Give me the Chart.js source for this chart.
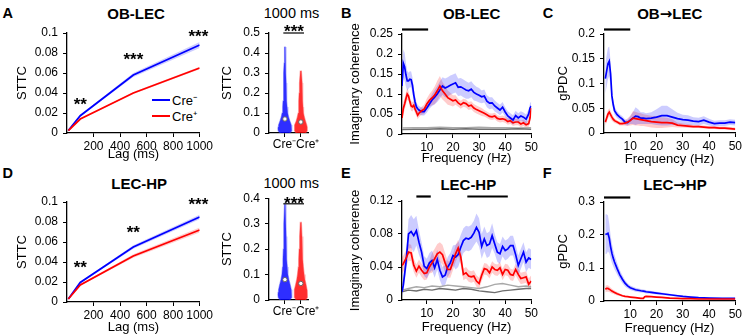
<!DOCTYPE html>
<html>
<head>
<meta charset="utf-8">
<script src="https://cdn.jsdelivr.net/npm/chart.js@4.4.1/dist/chart.umd.min.js"></script>
<style>
  html, body { margin: 0; padding: 0; background: #fff; }
  #fig { position: relative; width: 744px; height: 336px; overflow: hidden; font-family: "Liberation Sans", Arial, Helvetica, sans-serif; color: #000; }
  #fig canvas { position: absolute; }
  .lbl { position: absolute; white-space: nowrap; line-height: 1; }
  .letter { font-weight: bold; font-size: 14.5px; }
  .ttl { font-weight: bold; font-size: 15px; transform: translateX(-50%); }
  .arr { font-family: "DejaVu Sans", sans-serif; font-weight: bold; }
  .sub { font-size: 14.5px; transform: translateX(-50%); }
  .leg { font-size: 13px; }
  .swatch { position: absolute; width: 18px; height: 2px; }
</style>
</head>
<body>
<div id="fig">
  <div class="lbl letter" style="left:2.5px;top:6.3px">A</div>
  <div class="lbl ttl" style="left:136px;top:6.3px">OB-LEC</div>
  <div class="lbl sub" style="left:291.5px;top:6.4px">1000 ms</div>
  <div class="lbl letter" style="left:341px;top:6.3px">B</div>
  <div class="lbl ttl" style="left:471.7px;top:6.3px">OB-LEC</div>
  <div class="lbl letter" style="left:542.7px;top:6.3px">C</div>
  <div class="lbl ttl" style="left:669.7px;top:6.3px">OB<span class="arr">→</span>LEC</div>
  <div class="lbl letter" style="left:2.5px;top:166.3px">D</div>
  <div class="lbl ttl" style="left:139.2px;top:176.3px">LEC-HP</div>
  <div class="lbl sub" style="left:291.2px;top:176.4px">1000 ms</div>
  <div class="lbl letter" style="left:341px;top:166.3px">E</div>
  <div class="lbl ttl" style="left:468.3px;top:177px">LEC-HP</div>
  <div class="lbl letter" style="left:542.7px;top:166.3px">F</div>
  <div class="lbl ttl" style="left:675px;top:177px">LEC<span class="arr">→</span>HP</div>
  <div id="legend"></div>
</div>
<script>
// ---- data ----
const groups = ['Cre⁻', 'Cre⁺'];
const blue = '#0000ff', red = '#ff0000';
const blueBand = 'rgba(0,0,255,0.2)', redBand = 'rgba(255,0,0,0.2)';

// STTC vs lag (A, D)
const lagMs = [10, 100, 500, 1000];
const lagTicks = [200, 400, 600, 800, 1000];
const lagTickLabels = ['200', '400', '600', '800', '1000'];
const sttcTicks = [0, 0.02, 0.04, 0.06, 0.08, 0.1];
const sttcTickLabels = ['0', '0.02', '0.04', '0.06', '0.08', '0.1'];
const sttcObLecMinus = [0.0025, 0.0173, 0.058, 0.088];
const sttcObLecMinusSem = [0.0004, 0.0008, 0.002, 0.003];
const sttcObLecPlus = [0.0023, 0.014, 0.040, 0.065];
const sttcObLecPlusSem = [0.0004, 0.0006, 0.001, 0.0012];
const sttcLecHpMinus = [0.003, 0.0195, 0.055, 0.085];
const sttcLecHpMinusSem = [0.0004, 0.0008, 0.0018, 0.0022];
const sttcLecHpPlus = [0.003, 0.017, 0.046, 0.072];
const sttcLecHpPlusSem = [0.0004, 0.0008, 0.0018, 0.0025];
const starsObLec = ['**', '***', '***'];
const starsObLecLag = [100, 500, 990];
const starsObLecY = [0.033, 0.078, 0.1006];
const starsLecHp = ['**', '**', '***'];
const starsLecHpLag = [100, 500, 990];
const starsLecHpY = [0.039, 0.0737, 0.102];

// STTC at 1000 ms, violins (A, D)
const violinObLecTicks = [0, 0.1, 0.2, 0.3, 0.4, 0.5];
const violinObLecTickLabels = ['0', '0.1', '0.2', '0.3', '0.4', '0.5'];
const violinObLecMinusLevels = [0, 0.01, 0.02, 0.03, 0.04, 0.06, 0.08, 0.1, 0.13, 0.16, 0.2, 0.25, 0.3, 0.35, 0.43];
const violinObLecMinusWidth = [0.3, 0.42, 0.44, 0.43, 0.4, 0.31, 0.23, 0.18, 0.14, 0.12, 0.1, 0.08, 0.065, 0.05, 0.025];
const violinObLecPlusLevels = [0, 0.01, 0.02, 0.03, 0.04, 0.06, 0.08, 0.1, 0.13, 0.16, 0.2, 0.25, 0.31];
const violinObLecPlusWidth = [0.3, 0.39, 0.41, 0.4, 0.37, 0.29, 0.22, 0.17, 0.14, 0.125, 0.11, 0.085, 0.035];
const violinObLecMedian = [0.07, 0.055];
const violinLecHpTicks = [0, 0.1, 0.2, 0.3, 0.4];
const violinLecHpTickLabels = ['0', '0.1', '0.2', '0.3', '0.4'];
const violinLecHpMinusLevels = [0, 0.01, 0.02, 0.03, 0.04, 0.06, 0.08, 0.1, 0.13, 0.16, 0.2, 0.25, 0.3, 0.375];
const violinLecHpMinusWidth = [0.3, 0.42, 0.44, 0.43, 0.4, 0.33, 0.25, 0.19, 0.15, 0.125, 0.1, 0.08, 0.06, 0.025];
const violinLecHpPlusLevels = [0, 0.01, 0.02, 0.03, 0.04, 0.06, 0.08, 0.1, 0.13, 0.16, 0.2, 0.25, 0.305];
const violinLecHpPlusWidth = [0.3, 0.4, 0.42, 0.41, 0.39, 0.33, 0.26, 0.21, 0.16, 0.135, 0.11, 0.075, 0.035];
const violinLecHpMedian = [0.08, 0.065];

const freqTicks = [10, 20, 30, 40, 50];
const freqTickLabels = ['10', '20', '30', '40', '50'];

// B: OB-LEC imaginary coherence
const bFreq = [0.5, 1, 1.5, 2, 2.5, 3, 3.5, 4, 4.5, 5, 5.5, 6, 6.5, 7,
  8, 9, 10, 11, 12, 13, 14, 15, 16, 17, 18, 19, 20, 21, 22, 23, 24, 25, 26, 27, 28, 29,
  30, 31, 32, 33, 34, 35, 36, 37, 38, 39, 40, 41, 42, 43, 44, 45, 46, 47, 48, 49, 49.5, 50];
const bCreMinus = [0.12, 0.177, 0.168, 0.148, 0.133, 0.133, 0.137, 0.136, 0.122, 0.098, 0.08, 0.068, 0.063, 0.06,
  0.056, 0.056, 0.065, 0.075, 0.085, 0.092, 0.1, 0.11, 0.12, 0.115, 0.118, 0.122, 0.125, 0.128, 0.117, 0.118, 0.114, 0.11, 0.108, 0.112, 0.104, 0.1,
  0.097, 0.093, 0.095, 0.082, 0.077, 0.078, 0.07, 0.065, 0.06, 0.067, 0.055, 0.045, 0.04, 0.035, 0.046, 0.04, 0.045, 0.042, 0.037, 0.05, 0.065, 0.07];
const bCreMinusSem = [0.03, 0.035, 0.035, 0.03, 0.025, 0.02, 0.02, 0.02, 0.02, 0.018, 0.015, 0.012, 0.01, 0.01,
  0.01, 0.01, 0.012, 0.012, 0.015, 0.018, 0.02, 0.022, 0.022, 0.024, 0.024, 0.024, 0.024, 0.024, 0.022, 0.022, 0.022, 0.022, 0.02, 0.02, 0.02, 0.018,
  0.018, 0.016, 0.016, 0.015, 0.015, 0.014, 0.014, 0.013, 0.013, 0.013, 0.012, 0.012, 0.012, 0.012, 0.012, 0.012, 0.012, 0.012, 0.012, 0.012, 0.012, 0.012];
const bCrePlus = [0.04, 0.064, 0.075, 0.088, 0.1, 0.095, 0.081, 0.07, 0.068, 0.072, 0.062, 0.055, 0.047, 0.052,
  0.058, 0.062, 0.075, 0.084, 0.09, 0.097, 0.108, 0.12, 0.108, 0.1, 0.091, 0.087, 0.083, 0.085, 0.078, 0.073, 0.078, 0.076, 0.07, 0.072, 0.065, 0.061,
  0.058, 0.055, 0.052, 0.048, 0.044, 0.043, 0.045, 0.039, 0.037, 0.038, 0.036, 0.031, 0.033, 0.028, 0.03, 0.03, 0.025, 0.028, 0.023, 0.026, 0.04, 0.065];
const bCrePlusSem = [0.012, 0.015, 0.015, 0.015, 0.015, 0.012, 0.012, 0.012, 0.012, 0.01, 0.01, 0.01, 0.01, 0.01,
  0.01, 0.012, 0.014, 0.016, 0.018, 0.022, 0.025, 0.025, 0.022, 0.02, 0.018, 0.016, 0.014, 0.012, 0.01, 0.01, 0.01, 0.01, 0.01, 0.01, 0.01, 0.01,
  0.01, 0.01, 0.008, 0.008, 0.008, 0.008, 0.008, 0.008, 0.008, 0.008, 0.008, 0.008, 0.008, 0.008, 0.008, 0.008, 0.008, 0.008, 0.008, 0.008, 0.008, 0.008];
const bShuffleFreq = [0.5, 5, 10, 15, 20, 25, 30, 35, 40, 45, 50];
const bShuffleDark = [0.011, 0.012, 0.012, 0.013, 0.012, 0.013, 0.012, 0.012, 0.012, 0.013, 0.012];
const bShuffleLight = [0.015, 0.016, 0.016, 0.017, 0.016, 0.016, 0.017, 0.016, 0.016, 0.015, 0.016];
const bTicks = [0, 0.05, 0.1, 0.15, 0.2, 0.25];
const bTickLabels = ['0', '0.05', '0.1', '0.15', '0.2', '0.25'];
const bSigRanges = [[0.5, 10.5]];

// C: OB->LEC gPDC
const cFreq = [0.5, 1, 1.5, 2, 2.5, 3, 3.5, 4, 5, 6, 7, 8, 9, 10, 11, 12, 13, 14, 15, 16, 18, 20, 22, 24, 26, 28, 30, 32, 34, 36, 38, 40, 42, 44, 46, 48, 50];
const cCreMinus = [0.11, 0.125, 0.14, 0.145, 0.12, 0.075, 0.058, 0.045, 0.037, 0.032, 0.028, 0.022, 0.021, 0.026, 0.03, 0.034, 0.033, 0.03, 0.03, 0.029, 0.03, 0.032, 0.035, 0.035, 0.032, 0.029, 0.027, 0.026, 0.024, 0.023, 0.026, 0.022, 0.019, 0.02, 0.02, 0.022, 0.021];
const cCreMinusSem = [0.03, 0.032, 0.032, 0.03, 0.025, 0.015, 0.01, 0.008, 0.007, 0.006, 0.006, 0.006, 0.006, 0.008, 0.012, 0.018, 0.015, 0.012, 0.012, 0.011, 0.012, 0.016, 0.02, 0.02, 0.016, 0.012, 0.01, 0.01, 0.008, 0.008, 0.008, 0.007, 0.006, 0.006, 0.006, 0.006, 0.006];
const cCrePlus = [0.022, 0.03, 0.038, 0.042, 0.037, 0.032, 0.028, 0.025, 0.022, 0.019, 0.019, 0.02, 0.022, 0.025, 0.03, 0.029, 0.028, 0.027, 0.026, 0.025, 0.023, 0.022, 0.021, 0.021, 0.02, 0.016, 0.015, 0.014, 0.013, 0.013, 0.012, 0.011, 0.011, 0.01, 0.01, 0.009, 0.008];
const cCrePlusSem = [0.008, 0.008, 0.008, 0.008, 0.008, 0.007, 0.006, 0.005, 0.004, 0.004, 0.004, 0.005, 0.008, 0.01, 0.014, 0.014, 0.013, 0.013, 0.012, 0.012, 0.012, 0.012, 0.011, 0.01, 0.008, 0.005, 0.004, 0.004, 0.003, 0.003, 0.003, 0.003, 0.003, 0.003, 0.003, 0.003, 0.003];
const cTicks = [0, 0.05, 0.1, 0.15, 0.2];
const cTickLabels = ['0', '0.05', '0.1', '0.15', '0.2'];
const cSigRanges = [[0, 10]];

// E: LEC-HP imaginary coherence
const eFreq = [0.5, 1, 2, 3, 4, 5, 6, 7, 8, 9, 10, 11, 12, 13, 14, 15, 16, 17, 18, 19, 20, 21, 22, 23, 24, 25,
  26, 27, 28, 29, 30, 31, 32, 33, 34, 35, 36, 37, 38, 39, 40, 41, 42, 43, 44, 45, 46, 47, 48, 49, 50];
const eCreMinus = [0.01, 0.018, 0.045, 0.08, 0.083, 0.078, 0.084, 0.07, 0.058, 0.041, 0.038, 0.045, 0.048, 0.039, 0.049, 0.036, 0.028, 0.03, 0.04, 0.045, 0.054, 0.052, 0.055, 0.064, 0.072, 0.075,
  0.074, 0.076, 0.081, 0.088, 0.082, 0.065, 0.074, 0.066, 0.068, 0.078, 0.068, 0.058, 0.056, 0.065, 0.06, 0.062, 0.066, 0.066, 0.055, 0.042, 0.05, 0.058, 0.046, 0.051, 0.049];
const eCreMinusSem = [0.005, 0.008, 0.012, 0.018, 0.02, 0.02, 0.018, 0.015, 0.012, 0.012, 0.012, 0.012, 0.012, 0.012, 0.012, 0.012, 0.012, 0.012, 0.012, 0.012, 0.012, 0.015, 0.015, 0.015, 0.015, 0.015,
  0.015, 0.015, 0.015, 0.017, 0.017, 0.015, 0.015, 0.015, 0.015, 0.015, 0.012, 0.012, 0.012, 0.012, 0.012, 0.012, 0.012, 0.012, 0.012, 0.012, 0.012, 0.012, 0.012, 0.012, 0.012];
const eCrePlus = [0.042, 0.044, 0.05, 0.058, 0.057, 0.042, 0.035, 0.041, 0.036, 0.032, 0.033, 0.04, 0.045, 0.05, 0.056, 0.058, 0.055, 0.045, 0.037, 0.037, 0.046, 0.056, 0.063, 0.052, 0.031, 0.033,
  0.029, 0.028, 0.029, 0.023, 0.02, 0.03, 0.038, 0.037, 0.033, 0.04, 0.037, 0.036, 0.039, 0.031, 0.037, 0.036, 0.031, 0.03, 0.037, 0.031, 0.026, 0.027, 0.028, 0.019, 0.023];
const eCrePlusSem = [0.01, 0.01, 0.01, 0.01, 0.01, 0.008, 0.008, 0.008, 0.008, 0.008, 0.008, 0.008, 0.012, 0.012, 0.012, 0.012, 0.012, 0.012, 0.01, 0.01, 0.01, 0.01, 0.01, 0.01, 0.007, 0.007,
  0.007, 0.007, 0.007, 0.007, 0.007, 0.007, 0.007, 0.007, 0.007, 0.007, 0.007, 0.007, 0.007, 0.007, 0.007, 0.007, 0.007, 0.007, 0.007, 0.007, 0.007, 0.007, 0.007, 0.007, 0.007];
const eShuffleFreq = [0.5, 3, 6, 9, 12, 15, 18, 21, 24, 27, 30, 33, 36, 39, 42, 45, 48, 50];
const eShuffleDark = [0.01, 0.012, 0.011, 0.013, 0.012, 0.014, 0.013, 0.012, 0.014, 0.013, 0.011, 0.01, 0.009, 0.011, 0.012, 0.013, 0.014, 0.014];
const eShuffleLight = [0.012, 0.014, 0.016, 0.015, 0.017, 0.016, 0.018, 0.017, 0.016, 0.015, 0.014, 0.016, 0.019, 0.02, 0.018, 0.016, 0.017, 0.016];
const eTicks = [0, 0.04, 0.08, 0.12];
const eTickLabels = ['0', '0.04', '0.08', '0.12'];
const eSigRanges = [[6, 11.5], [25.5, 41]];

// F: LEC->HP gPDC
const fFreq = [0.5, 1, 1.5, 2, 2.5, 3, 3.5, 4, 5, 6, 7, 8, 9, 10, 12, 14, 15, 15.5, 16, 18, 20, 22, 25, 28, 30, 33, 36, 40, 45, 50];
const fCreMinus = [0.202, 0.203, 0.205, 0.19, 0.165, 0.145, 0.13, 0.118, 0.098, 0.08, 0.066, 0.054, 0.046, 0.04, 0.034, 0.031, 0.03, 0.029, 0.028, 0.026, 0.024, 0.022, 0.019, 0.016, 0.014, 0.012, 0.01, 0.009, 0.008, 0.008];
const fCreMinusSem = [0.06, 0.06, 0.055, 0.045, 0.035, 0.03, 0.025, 0.022, 0.018, 0.014, 0.012, 0.01, 0.008, 0.007, 0.006, 0.005, 0.005, 0.005, 0.005, 0.004, 0.004, 0.004, 0.003, 0.003, 0.003, 0.002, 0.002, 0.002, 0.002, 0.002];
const fCrePlus = [0.036, 0.038, 0.038, 0.036, 0.033, 0.03, 0.028, 0.026, 0.022, 0.019, 0.016, 0.014, 0.013, 0.012, 0.01, 0.008, 0.008, 0.013, 0.014, 0.013, 0.012, 0.011, 0.009, 0.008, 0.007, 0.007, 0.006, 0.006, 0.006, 0.006];
const fCrePlusSem = [0.01, 0.01, 0.01, 0.009, 0.008, 0.007, 0.006, 0.006, 0.005, 0.004, 0.003, 0.003, 0.002, 0.002, 0.002, 0.002, 0.002, 0.002, 0.002, 0.002, 0.002, 0.002, 0.002, 0.002, 0.002, 0.002, 0.002, 0.002, 0.002, 0.002];
const fTicks = [0, 0.1, 0.2, 0.3];
const fTickLabels = ['0', '0.1', '0.2', '0.3'];
const fSigRanges = [[0, 10]];

// ---- drawing ----
const fontFamily = '"Liberation Sans", Arial, Helvetica, sans-serif';
Chart.defaults.font.family = fontFamily;
Chart.defaults.color = '#000';
const titleSize = 13, titleHalf = titleSize * 1.2 / 2;

function axis(o) {
  return {
    type: 'linear', min: o.min, max: o.max,
    afterBuildTicks: s => { s.ticks = o.ticks.map(v => ({ value: v })); },
    afterFit: s => { if (o.isX) s.height = o.size; else s.width = o.size; },
    ticks: {
      autoSkip: false, maxRotation: 0, minRotation: 0, color: '#000', font: { size: 12 },
      padding: o.isX ? 2 : 5,
      callback: (v, i) => (o.labels ? o.labels[i] : ''),
    },
    grid: { drawOnChartArea: false, drawTicks: true, tickLength: 4, color: '#000', lineWidth: 1 },
    border: { display: true, color: '#000', width: 1.3 },
    title: o.title
      ? { display: true, text: o.title, color: '#000', font: { size: titleSize },
          padding: o.isX ? { top: 0, bottom: o.titleOffset } : { top: o.titleOffset, bottom: 0 } }
      : { display: false },
  };
}

function line(xs, ys, color, width, order) {
  return { data: xs.map((x, i) => ({ x, y: ys[i] })), borderColor: color, borderWidth: width,
    pointRadius: 0, fill: false, tension: 0, order };
}

function band(xs, ys, sem, color) {
  return [
    { data: xs.map((x, i) => ({ x, y: ys[i] + sem[i] })), borderColor: 'rgba(0,0,0,0)', backgroundColor: color,
      pointRadius: 0, fill: '+1', tension: 0, order: 5 },
    { data: xs.map((x, i) => ({ x, y: ys[i] - sem[i] })), borderColor: 'rgba(0,0,0,0)',
      pointRadius: 0, fill: false, tension: 0, order: 5 },
  ];
}

function violin(center, levels, widths, fillColor, edgeColor) {
  const left = levels.map((l, i) => ({ x: center - widths[i], y: l }));
  const right = levels.map((l, i) => ({ x: center + widths[i], y: l })).reverse();
  return { data: left.concat(right), showLine: true, fill: 'shape', backgroundColor: fillColor,
    borderColor: edgeColor, borderWidth: 1.2, pointRadius: 0, tension: 0, order: 2 };
}

function marksPlugin(spec) {
  return {
    id: 'marks',
    afterDatasetsDraw(chart) {
      const { ctx, chartArea: a, scales: { x, y } } = chart;
      ctx.save();
      ctx.strokeStyle = '#000';
      ctx.fillStyle = '#000';
      ctx.lineCap = 'butt';
      (spec.bars || []).forEach(r => {
        const yy = a.top - 4.5;
        ctx.lineWidth = 2.2;
        ctx.beginPath();
        ctx.moveTo(x.getPixelForValue(r[0]), yy);
        ctx.lineTo(x.getPixelForValue(r[1]), yy);
        ctx.stroke();
      });
      if (spec.sigLine) {
        const yy = y.getPixelForValue(spec.sigLine.y);
        ctx.lineWidth = 1.2;
        ctx.beginPath();
        ctx.moveTo(x.getPixelForValue(spec.sigLine.x0), yy);
        ctx.lineTo(x.getPixelForValue(spec.sigLine.x1), yy);
        ctx.stroke();
      }
      const starSize = 17;
      ctx.font = 'bold ' + starSize + 'px ' + fontFamily;
      ctx.textAlign = 'center';
      ctx.textBaseline = 'alphabetic';
      (spec.stars || []).forEach(s => {
        ctx.fillText(s.text, x.getPixelForValue(s.x), y.getPixelForValue(s.y) + 0.575 * starSize);
      });
      if (spec.groupLabels) {
        ctx.font = '12px ' + fontFamily;
        ctx.textBaseline = 'top';
        const gx = x.getPixelForValue(spec.groupSplit);
        ctx.textAlign = 'right';
        ctx.fillText(spec.groupLabels[0], gx, a.bottom + 6);
        ctx.textAlign = 'left';
        ctx.fillText(spec.groupLabels[1], gx, a.bottom + 6);
      }
      ctx.restore();
    },
  };
}

function panel(p) {
  const fig = document.getElementById('fig');
  const cv = document.createElement('canvas');
  cv.width = p.box.w;
  cv.height = p.box.h;
  cv.style.left = p.box.x + 'px';
  cv.style.top = p.box.y + 'px';
  fig.appendChild(cv);
  const a = p.area;
  new Chart(cv, {
    type: p.type || 'line',
    data: { datasets: p.datasets },
    options: {
      responsive: false, animation: false, devicePixelRatio: 1,
      layout: { autoPadding: false, padding: { top: a.t - p.box.y, right: p.box.x + p.box.w - a.r, bottom: 0, left: 0 } },
      plugins: { legend: { display: false }, tooltip: { enabled: false } },
      scales: {
        x: axis({ isX: true, min: p.x.min, max: p.x.max, ticks: p.x.ticks, labels: p.x.labels,
          size: p.box.y + p.box.h - a.b, title: p.x.title,
          titleOffset: p.x.title ? p.box.y + p.box.h - p.x.titleY - titleHalf : 0 }),
        y: axis({ isX: false, min: p.y.min, max: p.y.max, ticks: p.y.ticks, labels: p.y.labels,
          size: a.l - p.box.x, title: p.y.title,
          titleOffset: p.y.title ? p.y.titleX - p.box.x - titleHalf : 0 }),
      },
    },
    plugins: [marksPlugin(p.marks || {})],
  });
}

function stars(texts, xs, ys) {
  return texts.map((t, i) => ({ text: t, x: xs[i], y: ys[i] }));
}

function violinPanel(box, area, ticks, labels, ymax, minusLv, minusW, plusLv, plusW, medians, sigY, starY) {
  panel({
    type: 'scatter', box, area,
    x: { min: 0, max: 2.45, ticks: [1, 2], labels: null },
    y: { min: 0, max: ymax, ticks, labels, title: 'STTC', titleX: 227 },
    datasets: [
      violin(1, minusLv, minusW, 'rgba(0,0,255,0.82)', 'rgba(60,60,255,0.45)'),
      violin(2, plusLv, plusW, 'rgba(255,0,0,0.82)', 'rgba(255,70,70,0.45)'),
      { data: medians.map((m, i) => ({ x: i + 1, y: m })), pointRadius: 2.2, pointBackgroundColor: '#fff',
        pointBorderColor: '#666', pointBorderWidth: 1, showLine: false, order: 0 },
    ],
    marks: { sigLine: { x0: 0.9, x1: 2.2, y: sigY }, stars: [{ text: '***', x: 1.57, y: starY }],
      groupLabels: groups, groupSplit: 1.7 },
  });
}

// A
panel({
  box: { x: 0, y: 18, w: 215, h: 150 }, area: { l: 67, t: 33, r: 200, b: 133 },
  x: { min: 0, max: 1000, ticks: lagTicks, labels: lagTickLabels, title: 'Lag (ms)', titleY: 154 },
  y: { min: 0, max: 0.1, ticks: sttcTicks, labels: sttcTickLabels, title: 'STTC', titleX: 22 },
  datasets: [
    ...band(lagMs, sttcObLecMinus, sttcObLecMinusSem, blueBand),
    ...band(lagMs, sttcObLecPlus, sttcObLecPlusSem, redBand),
    line(lagMs, sttcObLecMinus, blue, 1.8, 1),
    line(lagMs, sttcObLecPlus, red, 1.8, 0),
  ],
  marks: { stars: stars(starsObLec, starsObLecLag, starsObLecY) },
});
violinPanel({ x: 205, y: 18, w: 125, h: 150 }, { l: 269, t: 33, r: 308, b: 133 },
  violinObLecTicks, violinObLecTickLabels, 0.5,
  violinObLecMinusLevels, violinObLecMinusWidth, violinObLecPlusLevels, violinObLecPlusWidth,
  violinObLecMedian, 0.5, 0.53);

// B
panel({
  box: { x: 330, y: 18, w: 210, h: 150 }, area: { l: 402, t: 34, r: 533, b: 134 },
  x: { min: 0.5, max: 50, ticks: freqTicks, labels: freqTickLabels, title: 'Frequency (Hz)', titleY: 158 },
  y: { min: 0, max: 0.25, ticks: bTicks, labels: bTickLabels, title: 'Imaginary coherence', titleX: 355 },
  datasets: [
    ...band(bFreq, bCreMinus, bCreMinusSem, blueBand),
    ...band(bFreq, bCrePlus, bCrePlusSem, redBand),
    line(bShuffleFreq, bShuffleDark, '#6e6e6e', 1.4, 3),
    line(bShuffleFreq, bShuffleLight, '#a8a8a8', 1.4, 3),
    line(bFreq, bCreMinus, blue, 1.7, 1),
    line(bFreq, bCrePlus, red, 1.7, 0),
  ],
  marks: { bars: bSigRanges },
});

// C
panel({
  box: { x: 540, y: 18, w: 204, h: 150 }, area: { l: 604, t: 34, r: 736, b: 133 },
  x: { min: 0, max: 50, ticks: freqTicks, labels: freqTickLabels, title: 'Frequency (Hz)', titleY: 159 },
  y: { min: 0, max: 0.2, ticks: cTicks, labels: cTickLabels, title: 'gPDC', titleX: 563 },
  datasets: [
    ...band(cFreq, cCreMinus, cCreMinusSem, blueBand),
    ...band(cFreq, cCrePlus, cCrePlusSem, redBand),
    line(cFreq, cCreMinus, blue, 1.7, 1),
    line(cFreq, cCrePlus, red, 1.7, 0),
  ],
  marks: { bars: cSigRanges },
});

// D
panel({
  box: { x: 0, y: 186, w: 215, h: 150 }, area: { l: 67, t: 202, r: 200, b: 302 },
  x: { min: 0, max: 1000, ticks: lagTicks, labels: lagTickLabels, title: 'Lag (ms)', titleY: 327 },
  y: { min: 0, max: 0.1, ticks: sttcTicks, labels: sttcTickLabels, title: 'STTC', titleX: 22 },
  datasets: [
    ...band(lagMs, sttcLecHpMinus, sttcLecHpMinusSem, blueBand),
    ...band(lagMs, sttcLecHpPlus, sttcLecHpPlusSem, redBand),
    line(lagMs, sttcLecHpMinus, blue, 1.8, 1),
    line(lagMs, sttcLecHpPlus, red, 1.8, 0),
  ],
  marks: { stars: stars(starsLecHp, starsLecHpLag, starsLecHpY) },
});
violinPanel({ x: 205, y: 186, w: 125, h: 150 }, { l: 269, t: 193, r: 308, b: 300 },
  violinLecHpTicks, violinLecHpTickLabels, 0.4,
  violinLecHpMinusLevels, violinLecHpMinusWidth, violinLecHpPlusLevels, violinLecHpPlusWidth,
  violinLecHpMedian, 0.378, 0.396);

// E
panel({
  box: { x: 330, y: 186, w: 210, h: 150 }, area: { l: 402, t: 201, r: 535, b: 300 },
  x: { min: 0.5, max: 50, ticks: freqTicks, labels: freqTickLabels, title: 'Frequency (Hz)', titleY: 327 },
  y: { min: 0, max: 0.12, ticks: eTicks, labels: eTickLabels, title: 'Imaginary coherence', titleX: 355 },
  datasets: [
    ...band(eFreq, eCreMinus, eCreMinusSem, blueBand),
    ...band(eFreq, eCrePlus, eCrePlusSem, redBand),
    line(eShuffleFreq, eShuffleDark, '#6e6e6e', 1.4, 3),
    line(eShuffleFreq, eShuffleLight, '#a8a8a8', 1.4, 3),
    line(eFreq, eCreMinus, blue, 1.7, 1),
    line(eFreq, eCrePlus, red, 1.7, 0),
  ],
  marks: { bars: eSigRanges },
});

// F
panel({
  box: { x: 540, y: 186, w: 204, h: 150 }, area: { l: 604, t: 202, r: 737, b: 301 },
  x: { min: 0, max: 50, ticks: freqTicks, labels: freqTickLabels, title: 'Frequency (Hz)', titleY: 328 },
  y: { min: 0, max: 0.3, ticks: fTicks, labels: fTickLabels, title: 'gPDC', titleX: 563 },
  datasets: [
    ...band(fFreq, fCreMinus, fCreMinusSem, blueBand),
    ...band(fFreq, fCrePlus, fCrePlusSem, redBand),
    line(fFreq, fCreMinus, blue, 1.7, 1),
    line(fFreq, fCrePlus, red, 1.7, 0),
  ],
  marks: { bars: fSigRanges },
});

// legend of panel A
const legend = document.getElementById('legend');
[blue, red].forEach((c, i) => {
  const top = 100 + i * 16;
  legend.insertAdjacentHTML('beforeend',
    '<div class="swatch" style="left:152px;top:' + (top - 1) + 'px;background:' + c + '"></div>' +
    '<div class="lbl leg" style="left:172px;top:' + (top - 6.4) + 'px">' + groups[i] + '</div>');
});
</script>
</body>
</html>
